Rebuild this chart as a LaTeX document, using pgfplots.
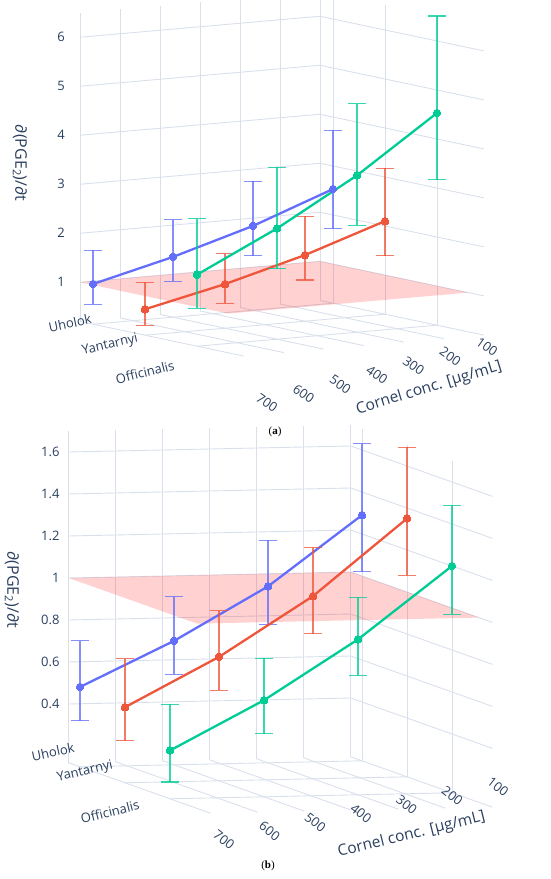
\documentclass[border=0pt]{standalone}
\usepackage{fontspec}
\setmainfont{Open Sans}
\newfontfamily\capfont{Liberation Serif}
\usepackage{pgfplots}
\usepackage{pgfplotstable}
\pgfplotsset{compat=1.18}

\definecolor{pblue}{HTML}{636EFA}
\definecolor{pred}{HTML}{EF553B}
\definecolor{pgreen}{HTML}{00CC96}
\definecolor{ptext}{HTML}{2A3F5F}
\definecolor{pgrid}{HTML}{D9E0EC}

% panel (a): cultivar index 0 = Uholok, 1 = Yantarnyi, 2 = Officinalis
\pgfplotstableread{
conc cult z ep em
700 0 1.02 0.69 0.41
500 0 1.43 0.76 0.50
300 0 1.92 0.91 0.61
100 0 2.53 1.20 0.81
}\aUh
\pgfplotstableread{
conc cult z ep em
700 1 0.73 0.55 0.33
500 1 1.10 0.62 0.39
300 1 1.55 0.79 0.51
100 1 2.10 1.08 0.71
}\aYa
\pgfplotstableread{
conc cult z ep em
700 2 1.66 1.14 0.69
500 2 2.46 1.25 0.82
300 2 3.40 1.46 1.02
100 2 4.53 1.98 1.36
}\aOf
% panel (b)
\pgfplotstableread{
conc cult z ep em
700 0 0.50 0.22 0.16
500 0 0.71 0.21 0.16
300 0 0.96 0.22 0.18
100 0 1.29 0.34 0.27
}\bUh
\pgfplotstableread{
conc cult z ep em
700 1 0.48 0.23 0.16
500 1 0.71 0.22 0.16
300 1 0.99 0.23 0.18
100 1 1.35 0.34 0.27
}\bYa
\pgfplotstableread{
conc cult z ep em
700 2 0.35 0.22 0.15
500 2 0.58 0.20 0.16
300 2 0.86 0.20 0.17
100 2 1.20 0.29 0.23
}\bOf

\tikzset{lab/.style={text=ptext, font=\fontsize{13}{13}\selectfont, inner sep=1pt}}
\pgfplotsset{
  panel/.style={
    clip=false,
    axis line style={draw=none},
    tick style={draw=none},
    xticklabels={,,,,,,}, yticklabels={,,},
    grid=major,
    major grid style={pgrid, line width=0.9pt},
    xmin=100, xmax=700, ymin=-0.25, ymax=2.9,
    xtick={100,200,...,700}, ytick={0,1,2},
  },
  ser/.style={draw=#1, line width=2.3pt, mark=*, mark size=3.8pt,
    mark options={fill=#1, draw=#1, line width=0pt},
    error bars/z dir=both, error bars/z explicit,
    error bars/error mark=|,
    error bars/error bar style={draw=#1, draw opacity=0.78, line width=1.1pt},
    error bars/error mark options={draw=#1, draw opacity=0.78, line width=1.1pt, mark size=9pt}},
}

\begin{document}
\begin{tikzpicture}
\path[use as bounding box] (0,0) rectangle (550pt,879pt);

% ---------------- panel (a) ----------------
\begin{axis}[panel,
  at={(80pt,887.25pt)}, anchor=north west,
  x={(-0.40pt,-0.035pt)}, y={(52pt,-11pt)}, z={(0pt,49pt)},
  zmin=0.2, zmax=6.5, ztick={1,2,...,6}, zticklabels={,,,,,}]
  \addplot3[draw=none, fill=red, fill opacity=0.18]
    coordinates {(100,-0.25,1) (700,-0.25,1) (700,2.6,1) (100,2.6,1)};
  \addplot3[ser=pblue] table[x=conc,y=cult,z=z,z error plus=ep,z error minus=em] {\aUh};
  \addplot3[ser=pred] table[x=conc,y=cult,z=z,z error plus=ep,z error minus=em] {\aYa};
  \addplot3[ser=pgreen] table[x=conc,y=cult,z=z,z error plus=ep,z error minus=em] {\aOf};
  \pgfplotsinvokeforeach{1,...,6}{
    \node[lab, anchor=east, xshift=-14pt] at (axis cs:700,-0.25,#1) {#1};
  }
  \pgfplotsinvokeforeach{100,200,...,700}{
    \node[lab, anchor=center, xshift={44pt-0.0333pt*(700-#1)}, yshift={-51.3pt+0.0583pt*(700-#1)}, rotate=-35] at (axis cs:#1,2.5,0.2) {#1};
  }
  \node[lab, xshift=-23pt, yshift=1pt, rotate=12] at (axis cs:700,0,0.2) {Uholok};
  \node[lab, xshift=-35pt, yshift=-10pt, rotate=13] at (axis cs:700,1,0.2) {Yantarnyi};
  \node[lab, xshift=-52pt, yshift=-26pt, rotate=14] at (axis cs:700,2,0.2) {Officinalis};
  \node[lab, font=\fontsize{15.5}{16}\selectfont, xshift=86pt, yshift=-47pt, rotate=17] at (axis cs:400,2.5,0.2) {Cornel conc. [µg/mL]};
  \node[lab, font=\fontsize{16}{16}\selectfont, xshift=-60pt, rotate=-90] at (axis cs:700,-0.25,3.43) {∂(PGE\textsubscript{2})/∂t};
\end{axis}

% ---------------- panel (b) ----------------
\begin{axis}[panel,
  at={(68.75pt,454pt)}, anchor=north west,
  x={(-0.47pt,-0.01pt)}, y={(45pt,-16pt)}, z={(0pt,210pt)},
  zmin=0.12, zmax=1.7, ztick={0.4,0.6,...,1.6}, zticklabels={,,,,,,}]
  \addplot3[draw=none, fill=red, fill opacity=0.18]
    coordinates {(100,-0.25,1) (700,-0.25,1) (700,2.6,1) (100,2.6,1)};
  \addplot3[ser=pblue] table[x=conc,y=cult,z=z,z error plus=ep,z error minus=em] {\bUh};
  \addplot3[ser=pred] table[x=conc,y=cult,z=z,z error plus=ep,z error minus=em] {\bYa};
  \addplot3[ser=pgreen] table[x=conc,y=cult,z=z,z error plus=ep,z error minus=em] {\bOf};
  \node[lab, anchor=east, xshift=-8pt] at (axis cs:700,-0.25,0.4) {0.4};
  \node[lab, anchor=east, xshift=-8pt] at (axis cs:700,-0.25,0.6) {0.6};
  \node[lab, anchor=east, xshift=-8pt] at (axis cs:700,-0.25,0.8) {0.8};
  \node[lab, anchor=east, xshift=-8pt] at (axis cs:700,-0.25,1.0) {1};
  \node[lab, anchor=east, xshift=-8pt] at (axis cs:700,-0.25,1.2) {1.2};
  \node[lab, anchor=east, xshift=-8pt] at (axis cs:700,-0.25,1.4) {1.4};
  \node[lab, anchor=east, xshift=-8pt] at (axis cs:700,-0.25,1.6) {1.6};
  \pgfplotsinvokeforeach{100,200,...,700}{
    \node[lab, anchor=center, xshift={31.5pt-0.0133pt*(700-#1)}, yshift={-33.2pt+0.0783pt*(700-#1)}, rotate=-38] at (axis cs:#1,2.5,0.12) {#1};
  }
  \node[lab, xshift=-27pt, yshift=15pt, rotate=12] at (axis cs:700,0,0.12) {Uholok};
  \node[lab, xshift=-40pt, yshift=11pt, rotate=13] at (axis cs:700,1,0.12) {Yantarnyi};
  \node[lab, xshift=-60pt, yshift=-13pt, rotate=14] at (axis cs:700,2,0.12) {Officinalis};
  \node[lab, font=\fontsize{15.5}{16}\selectfont, xshift=78pt, yshift=-31pt, rotate=14] at (axis cs:400,2.5,0.12) {Cornel conc. [µg/mL]};
  \node[lab, font=\fontsize{16}{16}\selectfont, xshift=-56.75pt, rotate=-90] at (axis cs:700,-0.25,0.943) {∂(PGE\textsubscript{2})/∂t};
\end{axis}

\node[font=\capfont\fontsize{11}{11}\selectfont] at (275pt,447pt) {(\textbf{a})};
\node[font=\capfont\fontsize{11}{11}\selectfont] at (268pt,13pt) {(\textbf{b})};
\end{tikzpicture}
\end{document}
